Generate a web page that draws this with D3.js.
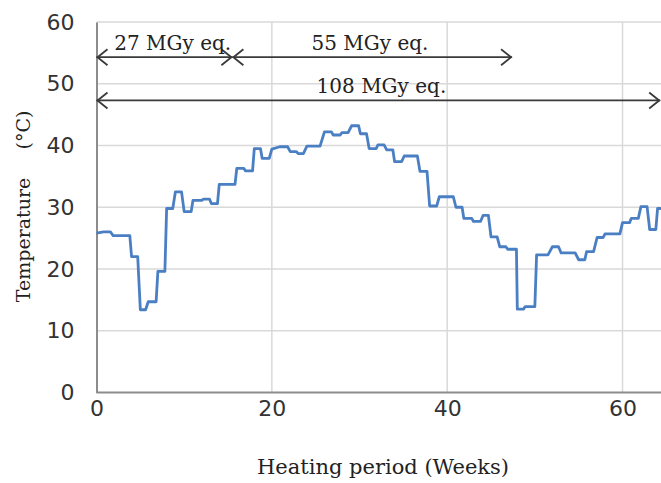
<!DOCTYPE html>
<html>
<head>
<meta charset="utf-8">
<script src="https://cdn.jsdelivr.net/npm/d3@7"></script>
<style>
  html, body { margin: 0; padding: 0; background: #fff; }
  svg { display: block; }
</style>
</head>
<body>
<script>
// Temperature record over the heating period (polyline vertices: week, °C)
const weeks = [
  0.0, 0.8, 1.6, 1.9, 3.8, 4.0, 4.7, 5.0, 5.6, 5.9, 6.8, 7.0, 7.8, 8.0, 8.7, 9.0, 9.7, 10.0,
  10.8, 11.0, 12.0, 12.2, 12.9, 13.1, 13.8, 14.0, 15.8, 16.0, 16.8, 17.0, 17.8, 18.0, 18.7, 18.9,
  19.7, 20.0, 20.9, 21.8, 22.1, 22.8, 23.0, 23.6, 24.0, 25.5, 26.0, 26.8, 27.0, 27.8, 28.0, 28.7,
  29.1, 29.9, 30.1, 30.8, 31.1, 31.9, 32.1, 32.8, 33.1, 33.8, 34.0, 34.8, 35.1, 36.6, 36.9, 37.7,
  38.0, 38.8, 39.1, 40.7, 41.0, 41.7, 41.9, 42.8, 43.0, 43.8, 44.1, 44.7, 45.0, 45.7, 46.0, 46.7,
  46.9, 47.9, 48.0, 48.7, 48.9, 50.0, 50.2, 51.5, 52.0, 52.7, 53.0, 54.6, 55.0, 55.7, 55.9, 56.7,
  57.1, 57.8, 58.0, 59.7, 60.0, 60.8, 61.0, 61.8, 62.1, 62.8, 63.1, 63.8, 64.0, 64.6
];
const temps = [
  25.8, 26.0, 26.0, 25.4, 25.4, 22.0, 22.0, 13.4, 13.4, 14.7, 14.7, 19.6, 19.6, 29.8, 29.8, 32.5, 32.5, 29.3,
  29.3, 31.1, 31.1, 31.3, 31.3, 30.6, 30.6, 33.7, 33.7, 36.3, 36.3, 35.9, 35.9, 39.5, 39.5, 37.9,
  37.9, 39.4, 39.8, 39.8, 39.0, 39.0, 38.7, 38.7, 39.9, 39.9, 42.2, 42.2, 41.7, 41.7, 42.1, 42.1,
  43.2, 43.2, 41.9, 41.9, 39.5, 39.5, 40.1, 40.1, 39.3, 39.3, 37.4, 37.4, 38.3, 38.3, 35.8, 35.8,
  30.2, 30.2, 31.7, 31.7, 30.0, 30.0, 28.2, 28.2, 27.7, 27.7, 28.7, 28.7, 25.2, 25.2, 23.6, 23.6,
  23.2, 23.2, 13.5, 13.5, 13.9, 13.9, 22.3, 22.3, 23.6, 23.6, 22.6, 22.6, 21.5, 21.5, 22.8, 22.8,
  25.1, 25.1, 25.7, 25.7, 27.5, 27.5, 28.2, 28.2, 30.1, 30.1, 26.4, 26.4, 29.8, 29.8
];

// Axis ticks
const xTicks = [0, 20, 40, 60];
const yTicks = [0, 10, 20, 30, 40, 50, 60];

// Dose spans (weeks), the height (°C) of each double arrow and where its label sits
const doseLabels = ["27 MGy eq.", "55 MGy eq.", "108 MGy eq."];
const doseStart  = [0, 15.5, 0];
const doseEnd    = [15.5, 47.4, 64.3];
const doseLevel  = [54.3, 54.3, 47.3];
const doseLabelAt = [8.7, 31.2, 32.5];

const W = 661, H = 483;
const svg = d3.select("body").append("svg").attr("width", W).attr("height", H);

const x = d3.scaleLinear().domain([0, 65]).range([96.5, 96.5 + 65 * 8.767]);
const y = d3.scaleLinear().domain([0, 60]).range([392.5, 22]);

// Gridlines
const grid = svg.append("g").attr("stroke", "#d9d9d9").attr("stroke-width", 1.5);
grid.selectAll("line.h").data(yTicks.filter(d => d > 0)).join("line")
  .attr("x1", x(0)).attr("x2", W).attr("y1", d => y(d)).attr("y2", d => y(d));
grid.selectAll("line.v").data(xTicks.filter(d => d > 0)).join("line")
  .attr("x1", d => x(d)).attr("x2", d => x(d)).attr("y1", y(60)).attr("y2", y(0));

// Axes
const xAxis = svg.append("g").attr("transform", `translate(0,${y(0)})`)
  .call(d3.axisBottom(x).tickValues(xTicks).tickSize(0).tickPadding(8));
const yAxis = svg.append("g").attr("transform", `translate(${x(0)},0)`)
  .call(d3.axisLeft(y).tickValues(yTicks).tickSize(0).tickPadding(22));
[xAxis, yAxis].forEach(g => {
  g.select(".domain").attr("stroke", "#8c8c8c").attr("stroke-width", 2);
  g.selectAll("text").attr("font-family", "DejaVu Sans").attr("font-size", 22).attr("fill", "#333");
});
xAxis.select(".domain").attr("d", `M${x(0)},0H${W}`);

// Temperature line
const line = d3.line().x((d, i) => x(weeks[i])).y(d => y(d));
svg.append("path").datum(temps)
  .attr("fill", "none").attr("stroke", "#4a7fc4").attr("stroke-width", 2.8)
  .attr("stroke-linejoin", "round")
  .attr("d", line);

// Dose arrows
const arrows = svg.append("g").attr("stroke", "#3a3a3a").attr("stroke-width", 1.8).attr("fill", "none");
doseLabels.forEach((lab, i) => {
  const x1 = x(doseStart[i]), x2 = x(doseEnd[i]), yy = y(doseLevel[i]);
  arrows.append("line").attr("x1", x1).attr("x2", x2).attr("y1", yy).attr("y2", yy);
  arrows.append("path").attr("d", `M${x1 + 11},${yy - 8}L${x1 + 1},${yy}L${x1 + 11},${yy + 8}`);
  arrows.append("path").attr("d", `M${x2 - 11},${yy - 8}L${x2 - 1},${yy}L${x2 - 11},${yy + 8}`);
});
svg.append("g").selectAll("text").data(doseLabels).join("text")
  .attr("x", (d, i) => x(doseLabelAt[i])).attr("y", (d, i) => y(doseLevel[i]) - 7)
  .attr("text-anchor", "middle")
  .attr("font-family", "DejaVu Serif").attr("font-size", 20).attr("fill", "#222")
  .text(d => d);

// Axis titles
svg.append("text").attr("x", 383).attr("y", 474).attr("text-anchor", "middle")
  .attr("font-family", "DejaVu Serif").attr("font-size", 21).attr("fill", "#222")
  .text("Heating period (Weeks)");
const yt = svg.append("g").attr("transform", "translate(30,0) rotate(-90)")
  .attr("font-family", "DejaVu Serif").attr("font-size", 19).attr("fill", "#222");
yt.append("text").attr("x", -240).attr("text-anchor", "middle").text("Temperature");
yt.append("text").attr("x", -130).attr("text-anchor", "middle").text("(°C)");
</script>
</body>
</html>
